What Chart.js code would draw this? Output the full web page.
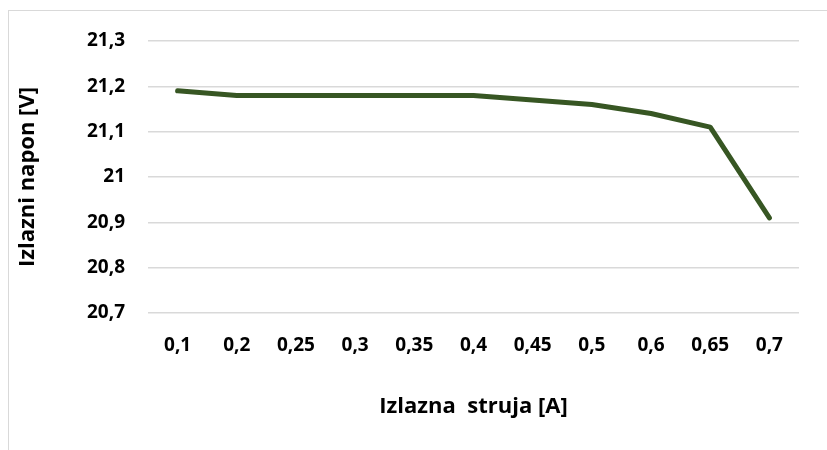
<!DOCTYPE html>
<html lang="hr">
<head>
  <meta charset="UTF-8" />
  <title>Izlazni napon</title>
  <script src="https://cdn.jsdelivr.net/npm/chart.js"></script>
  <style>
    body {
      margin: 0;
      padding: 0;
      background: #fff;
    }
    .frame {
      position: absolute;
      left: 8px;
      top: 10px;
      width: 840px;
      height: 460px;
      border: 1px solid #d9d9d9;
    }
    .wrap {
      position: absolute;
      left: 0;
      top: 0;
      width: 827px;
      height: 450px;
    }
  </style>
</head>
<body>
  <div class="frame"></div>
  <div class="wrap"><canvas id="chart"></canvas></div>

  <script>
    const struja = ['0,1', '0,2', '0,25', '0,3', '0,35', '0,4', '0,45', '0,5', '0,6', '0,65', '0,7'];
    const napon = [21.19, 21.18, 21.18, 21.18, 21.18, 21.18, 21.17, 21.16, 21.14, 21.11, 20.91];

    const fontFamily = '"Open Sans", Lato, sans-serif';

    new Chart(document.getElementById('chart'), {
      type: 'line',
      data: {
        labels: struja,
        datasets: [{
          data: napon,
          borderColor: '#375623',
          backgroundColor: '#375623',
          borderWidth: 5,
          borderCapStyle: 'round',
          borderJoinStyle: 'round',
          pointRadius: 0,
          tension: 0
        }]
      },
      options: {
        responsive: true,
        maintainAspectRatio: false,
        animation: false,
        layout: {
          padding: { left: 0, right: 28, top: 41, bottom: 0 }
        },
        plugins: {
          legend: { display: false },
          tooltip: { enabled: false }
        },
        scales: {
          x: {
            offset: true,
            grid: { display: false, drawTicks: false },
            border: { display: false },
            ticks: {
              color: '#000',
              padding: 21,
              maxRotation: 0,
              autoSkip: false,
              font: { family: fontFamily, size: 19, weight: 'bold' }
            },
            title: {
              display: true,
              text: 'Izlazna  struja [A]',
              color: '#000',
              padding: { top: 30, bottom: 30 },
              font: { family: fontFamily, size: 22, weight: 'bold' }
            },
            afterFit: (scale) => { scale.height = 137; }
          },
          y: {
            min: 20.7,
            max: 21.3,
            grid: { color: '#d9d9d9', lineWidth: 1.5, drawTicks: false },
            border: { display: false },
            ticks: {
              stepSize: 0.1,
              color: '#000',
              padding: 23,
              font: { family: fontFamily, size: 19, weight: 'bold' },
              callback: (v) => {
                const s = (Math.round(v * 10) / 10).toString();
                return s.replace('.', ',');
              }
            },
            title: {
              display: true,
              text: 'Izlazni napon [V]',
              color: '#000',
              padding: { top: 15, bottom: 15 },
              font: { family: fontFamily, size: 22, weight: 'bold' }
            },
            afterFit: (scale) => { scale.width = 148; }
          }
        }
      }
    });
  </script>
</body>
</html>
